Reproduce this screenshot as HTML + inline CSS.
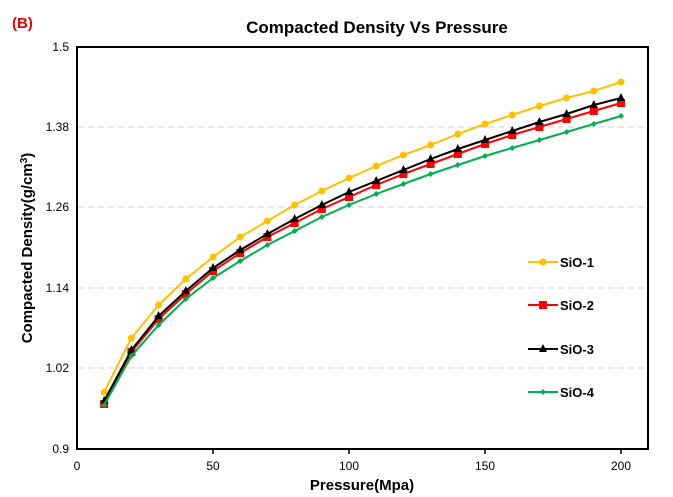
<!DOCTYPE html>
<html><head><meta charset="utf-8"><style>body{margin:0;background:#fff}svg{display:block}text{font-family:"Liberation Sans",sans-serif}</style></head><body>
<svg width="673" height="497" xmlns="http://www.w3.org/2000/svg">
<defs>
<marker id="mc" markerUnits="userSpaceOnUse" markerWidth="10" markerHeight="10" refX="5" refY="5"><circle cx="5" cy="5" r="3.5" fill="#ffc000"/></marker>
<marker id="ms" markerUnits="userSpaceOnUse" markerWidth="10" markerHeight="10" refX="5" refY="5"><rect x="1" y="1" width="8" height="8" fill="#f00"/></marker>
<marker id="mt" markerUnits="userSpaceOnUse" markerWidth="10" markerHeight="10" refX="5" refY="5"><polygon points="5,0 9,8 1,8" fill="#000"/></marker>
<marker id="md" markerUnits="userSpaceOnUse" markerWidth="10" markerHeight="10" refX="5" refY="5"><polygon points="5,2 8,5 5,8 2,5" fill="#00b050"/></marker>
</defs>
<rect width="673" height="497" fill="#fff"/>
<text x="12" y="28" font-size="15" font-weight="bold" fill="#e00">(B)</text>
<text x="377" y="33" font-size="17" font-weight="bold" text-anchor="middle" fill="#000">Compacted Density Vs Pressure</text>
<g stroke="#d0d0d0" stroke-dasharray="6,4" stroke-width="1">
<line x1="78" x2="648" y1="127" y2="127"/><line x1="78" x2="648" y1="207" y2="207"/><line x1="78" x2="648" y1="288" y2="288"/><line x1="78" x2="648" y1="368" y2="368"/>
</g>
<rect x="77" y="47" width="571" height="402" fill="none" stroke="#000" stroke-width="2"/>
<g stroke="#000" stroke-width="1.5"><line x1="213" x2="213" y1="449" y2="454"/><line x1="349" x2="349" y1="449" y2="454"/><line x1="485" x2="485" y1="449" y2="454"/><line x1="621" x2="621" y1="449" y2="454"/></g>
<g font-size="12" text-anchor="end" fill="#000"><text x="69" y="51">1.5</text><text x="69" y="131">1.38</text><text x="69" y="211">1.26</text><text x="69" y="292">1.14</text><text x="69" y="372">1.02</text><text x="69" y="453">0.9</text></g>
<g font-size="12" text-anchor="middle" fill="#000"><text x="77" y="470">0</text><text x="213" y="470">50</text><text x="349" y="470">100</text><text x="485" y="470">150</text><text x="621" y="470">200</text></g>
<text x="362" y="490" font-size="15" font-weight="bold" text-anchor="middle">Pressure(Mpa)</text>
<text transform="translate(32,248) rotate(-90)" font-size="15" font-weight="bold" text-anchor="middle">Compacted Density(g/cm<tspan dy="-5" font-size="10">3</tspan><tspan dy="5">)</tspan></text>
<g fill="none" stroke-width="2">
<polyline stroke="#ffc000" marker-start="url(#mc)" marker-mid="url(#mc)" marker-end="url(#mc)" points="104.2,392 131.4,338 158.6,305 185.8,279 213,257 240.2,237 267.4,221 294.6,205 321.8,191 349,178 376.2,166 403.4,155 430.6,145 457.8,134 485,124 512.2,115 539.4,106 566.6,98 593.8,91 621,82"/>
<polyline stroke="#f00" marker-start="url(#ms)" marker-mid="url(#ms)" marker-end="url(#ms)" points="104.2,404 131.4,352 158.6,319 185.8,294 213,271 240.2,253 267.4,237 294.6,223 321.8,209 349,197 376.2,185 403.4,174 430.6,164 457.8,154 485,144 512.2,135 539.4,127 566.6,119 593.8,111 621,103"/>
<polyline stroke="#000" marker-start="url(#mt)" marker-mid="url(#mt)" marker-end="url(#mt)" points="104.2,401 131.4,350 158.6,316 185.8,291 213,268 240.2,250 267.4,234 294.6,219 321.8,205 349,192 376.2,181 403.4,170 430.6,159 457.8,149 485,140 512.2,131 539.4,122 566.6,114 593.8,105 621,98"/>
<polyline stroke="#00b050" marker-start="url(#md)" marker-mid="url(#md)" marker-end="url(#md)" points="104.2,405 131.4,356 158.6,325 185.8,299 213,278 240.2,261 267.4,245 294.6,231 321.8,217 349,205 376.2,194 403.4,184 430.6,174 457.8,165 485,156 512.2,148 539.4,140 566.6,132 593.8,124 621,116"/>
</g>
<g font-size="13" font-weight="bold" fill="#000">
<line x1="528" x2="558" y1="262" y2="262" stroke="#ffc000" stroke-width="2"/><circle cx="543" cy="262" r="3.5" fill="#ffc000"/><text x="560" y="267">SiO-1</text>
<line x1="528" x2="558" y1="305" y2="305" stroke="#f00" stroke-width="2"/><rect x="539" y="301" width="8" height="8" fill="#f00"/><text x="560" y="310">SiO-2</text>
<line x1="528" x2="558" y1="349" y2="349" stroke="#000" stroke-width="2"/><polygon points="543,344 547,352 539,352" fill="#000"/><text x="560" y="354">SiO-3</text>
<line x1="528" x2="558" y1="392" y2="392" stroke="#00b050" stroke-width="2"/><polygon points="543,389 546,392 543,395 540,392" fill="#00b050"/><text x="560" y="397">SiO-4</text>
</g>
</svg>
</body></html>
